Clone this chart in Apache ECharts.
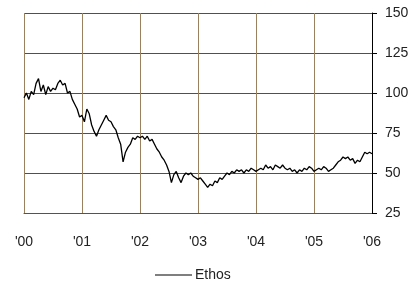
<!DOCTYPE html>
<html>
<head>
<meta charset="utf-8">
<script src="https://cdn.jsdelivr.net/npm/echarts@6/dist/echarts.min.js"></script>
<style>
  html, body { margin: 0; padding: 0; background: #fff; }
  #chart { width: 418px; height: 287px; }
</style>
</head>
<body>
<div id="chart"></div>
<script>
// semi-monthly closes
const years = [2000, 2001, 2002, 2003, 2004, 2005, 2006]
const yearLabels = ["'00", "'01", "'02", "'03", "'04", "'05", "'06"]
const yTicks = [25, 50, 75, 100, 125, 150]
const seriesName = 'Ethos'

const ethos2000 = [97, 100, 96, 101, 99, 106, 109, 101, 105, 99, 104, 101, 103, 102, 106, 108, 105, 106, 100, 101, 96, 93, 90, 85]
const ethos2001 = [86, 82, 90, 87, 80, 76, 73, 77, 80, 83, 86, 83, 82, 79, 77, 72, 68, 57, 63, 66, 68, 72, 71, 73]
const ethos2002 = [72, 73, 71, 73, 70, 71, 68, 65, 63, 60, 58, 55, 51, 44, 49, 51, 47, 44, 48, 50, 49, 50, 48, 47]
const ethos2003 = [46, 47, 45, 43, 41, 43, 42, 45, 44, 47, 46, 48, 50, 49, 51, 50, 52, 51, 52, 50, 52, 51, 53, 52]
const ethos2004 = [51, 52, 53, 52, 55, 53, 54, 52, 55, 54, 53, 55, 53, 52, 53, 51, 52, 50, 52, 51, 53, 52, 54, 53]
const ethos2005 = [51, 52, 53, 52, 54, 53, 51, 52, 53, 55, 57, 58, 60, 59, 60, 58, 59, 56, 58, 57, 60, 63, 62, 63]
const ethosEnd = [62]

const byYear = [ethos2000, ethos2001, ethos2002, ethos2003, ethos2004, ethos2005]
const points = []
byYear.forEach(function (vals, k) {
	vals.forEach(function (v, i) {
		points.push([years[k] + i / vals.length, v])
	})
})
points.push([years[6], ethosEnd[0]])

const myChart = echarts.init(document.getElementById('chart'))

const option = {
	backgroundColor: '#fff',
	animation: false,
	textStyle: { fontFamily: 'Liberation Sans, Arial, sans-serif' },
	// 58px per year, 40px per 25 units so the grid lines land on whole pixels
	grid: { left: 24, width: 348, top: 13, height: 200 },
	legend: {
		data: [seriesName],
		left: 150,
		top: 263,
		icon: 'rect',
		itemWidth: 37,
		itemHeight: 1,
		itemGap: 4,
		textStyle: { fontSize: 14, color: '#222', padding: [0, 0, 0, -2] },
	},
	xAxis: {
		type: 'value',
		min: years[0],
		max: years[years.length - 1],
		interval: 1,
		axisLine: { show: true, lineStyle: { color: '#6e4f2c', width: 1 } },
		axisTick: { show: false },
		axisLabel: {
			margin: 22,
			fontSize: 14,
			color: '#222',
			formatter: function (v) {
				return yearLabels[years.indexOf(Math.round(v))] || ''
			},
		},
		splitLine: {
			show: true,
			lineStyle: { color: '#9a805c', width: 1 },
		},
	},
	yAxis: {
		type: 'value',
		position: 'right',
		min: yTicks[0],
		max: yTicks[yTicks.length - 1],
		interval: 25,
		axisLine: { show: true, onZero: false, lineStyle: { color: '#000', width: 1 } },
		axisTick: { show: true, inside: false, length: 5, lineStyle: { color: '#000' } },
		axisLabel: { margin: 13, fontSize: 14, color: '#222' },
		splitLine: {
			show: true,
			lineStyle: { color: '#6a4b28', width: 1 },
		},
	},
	series: [
		{
			name: seriesName,
			type: 'line',
			data: points,
			symbol: 'none',
			itemStyle: { color: '#000' },
			lineStyle: { color: '#000', width: 1.3 },
		},
	],
}

myChart.setOption(option)
</script>
</body>
</html>
